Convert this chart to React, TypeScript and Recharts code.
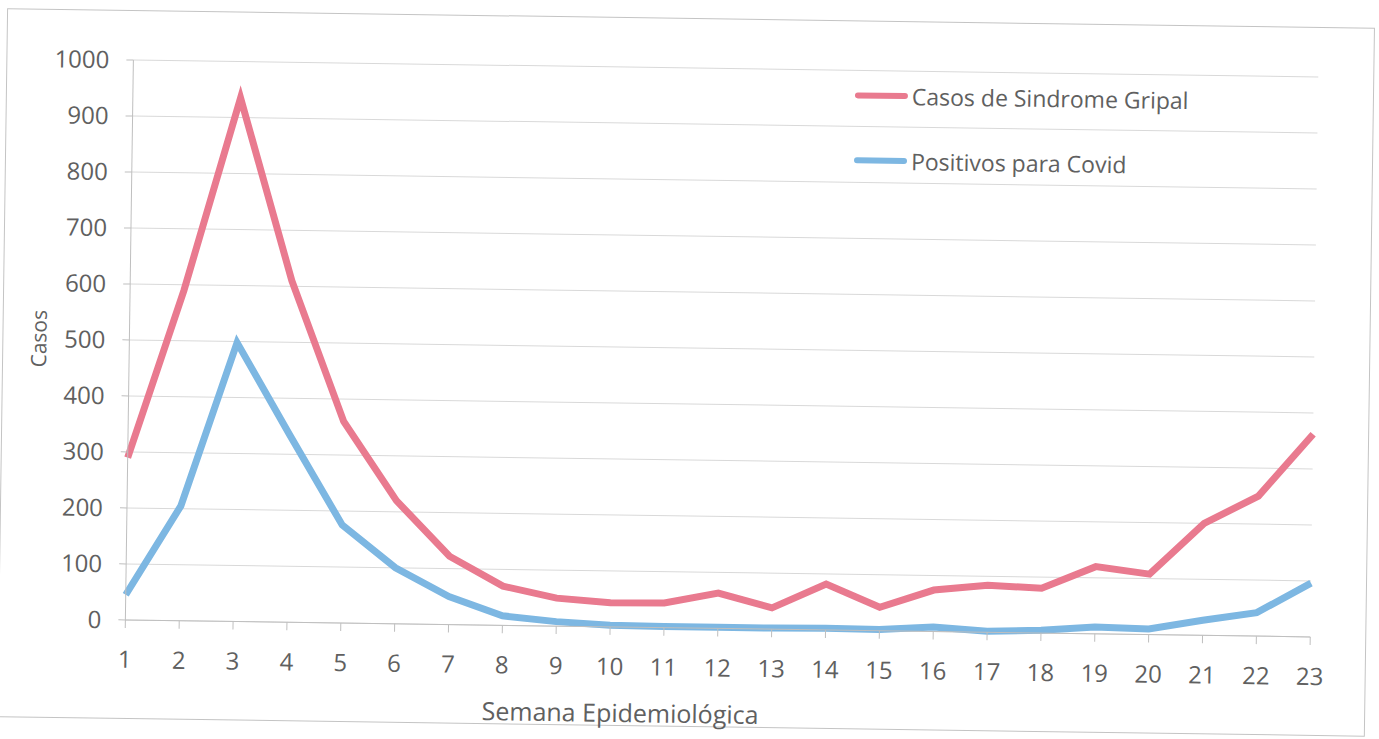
import { LineChart, Line, XAxis, YAxis, CartesianGrid } from "recharts";

const semanas = ["1", "2", "3", "4", "5", "6", "7", "8", "9", "10", "11", "12", "13", "14", "15", "16", "17", "18", "19", "20", "21", "22", "23"];
const sindromeGripal = [290, 590, 935, 610, 360, 220, 122, 70, 50, 43, 44, 63, 38, 82, 42, 74, 84, 80, 120, 108, 200, 250, 362];
const positivosCovid = [45, 205, 498, 335, 175, 100, 50, 17, 8, 3, 2, 2, 2, 3, 2, 8, 2, 5, 12, 10, 27, 42, 96];
const yTicks = [0, 100, 200, 300, 400, 500, 600, 700, 800, 900, 1000];

const seriesNames = ["Casos de Sindrome Gripal", "Positivos para Covid"];
const seriesColors = ["#e97a8f", "#7db7e2"];

const data = semanas.map((s, i) => ({
  semana: s,
  gripal: sindromeGripal[i],
  covid: positivosCovid[i],
}));

const font = "'Open Sans', sans-serif";
const textGray = "#606060";

function LegendBox() {
  return (
    <div style={{ position: "absolute", left: 851, top: 78, fontFamily: font }}>
      {seriesNames.map((name, i) => (
        <div key={name} style={{ display: "flex", alignItems: "center", height: 30, marginBottom: 35 }}>
          <div style={{ width: 53, height: 6, background: seriesColors[i], borderRadius: 3 }} />
          <span style={{ marginLeft: 4, fontSize: 23, color: textGray, whiteSpace: "nowrap" }}>{name}</span>
        </div>
      ))}
    </div>
  );
}

export default function App() {
  return (
    <div
      style={{
        position: "absolute",
        left: 0,
        top: 0,
        width: 1379,
        height: 739,
        background: "#fff",
        transform: "rotate(0.82deg)",
        transformOrigin: "690px 370px",
      }}
    >
      <div
        style={{
          position: "absolute",
          left: 2,
          top: 18,
          width: 1368,
          height: 709,
          border: "1px solid #c4c4c4",
          boxSizing: "border-box",
        }}
      />
      <LineChart
        width={1379}
        height={739}
        data={data}
        margin={{ top: 68, right: 65, bottom: 51, left: 0 }}
        style={{ position: "absolute", left: 0, top: 0 }}
      >
        <CartesianGrid vertical={false} stroke="#d9d9d9" />
        <XAxis
          dataKey="semana"
          height={60}
          padding={{ left: 0, right: 0 }}
          stroke="#bfbfbf"
          tickSize={8}
          tickMargin={23}
          tick={{ fill: textGray, fontSize: 24, fontFamily: font }}
          interval={0}
          label={() => (
            <text x={625} y={713} textAnchor="middle" dominantBaseline="central" fill={textGray} fontSize={25} fontFamily={font}>
              Semana Epidemiológica
            </text>
          )}
        />
        <YAxis
          width={129}
          domain={[0, 1000]}
          ticks={yTicks}
          stroke="#bfbfbf"
          tickSize={7}
          tickMargin={17}
          tick={{ fill: textGray, fontSize: 24, fontFamily: font }}
          label={({ viewBox }: any) => (
            <text
              x={38}
              y={viewBox.y + viewBox.height / 2}
              transform={`rotate(-90, 38, ${viewBox.y + viewBox.height / 2})`}
              textAnchor="middle"
              dominantBaseline="central"
              fill={textGray}
              fontSize={21}
              fontFamily={font}
            >
              Casos
            </text>
          )}
        />
        <Line
          type="linear"
          dataKey="gripal"
          name={seriesNames[0]}
          stroke={seriesColors[0]}
          strokeWidth={7}
          dot={false}
          isAnimationActive={false}
        />
        <Line
          type="linear"
          dataKey="covid"
          name={seriesNames[1]}
          stroke={seriesColors[1]}
          strokeWidth={7}
          dot={false}
          isAnimationActive={false}
        />
      </LineChart>
      <LegendBox />
    </div>
  );
}
